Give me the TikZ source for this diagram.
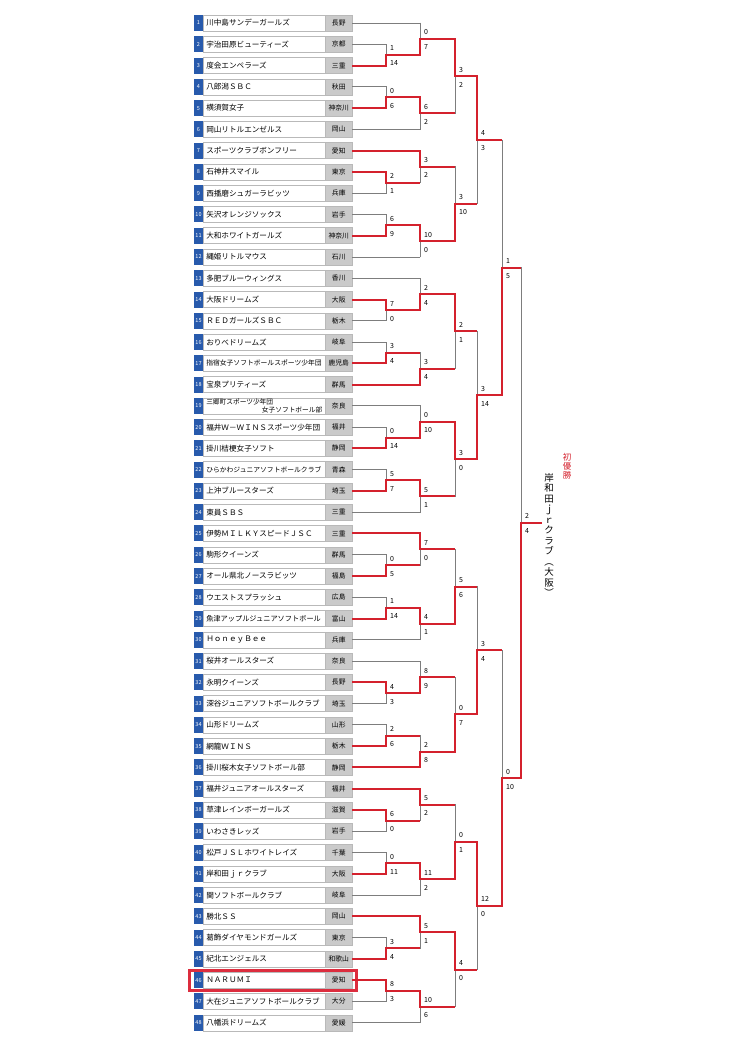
\documentclass[tikz,border=0pt]{standalone}
\usepackage{fontspec}
\setmainfont{Noto Sans CJK JP}
\usepackage{tikz}
\usetikzlibrary{calc}
\usetikzlibrary{positioning}
\usetikzlibrary{shadows}
\usetikzlibrary{fit}
\usepackage{xcolor}

\definecolor{numblue}{RGB}{40,90,172}
\definecolor{prefgray}{RGB}{202,202,202}
\definecolor{winred}{RGB}{212,33,45}
\definecolor{linegray}{RGB}{125,125,125}
\definecolor{hlred}{RGB}{220,45,62}

\pgfdeclarelayer{front}
\pgfsetlayers{main,front}

\tikzset{
numbox/.style={minimum width=9.5pt, minimum height=16pt, inner sep=0pt, outer sep=0pt,
  fill=numblue, text=white, font=\fontsize{5.5}{6}\selectfont},
namebox/.style={draw=gray!55, fill=white, minimum height=16pt, text width=116pt,
  inner xsep=3pt, inner ysep=0pt, outer sep=0pt, align=left,
  font=\fontsize{7.6}{8}\selectfont,
  drop shadow={shadow xshift=0.8pt, shadow yshift=-0.8pt, opacity=.35}},
prefbox/.style={draw=gray!55, fill=prefgray, minimum width=27pt, minimum height=16pt,
  inner sep=0pt, outer sep=0pt, font=\fontsize{6.8}{7}\selectfont,
  drop shadow={shadow xshift=0.8pt, shadow yshift=-0.8pt, opacity=.35}},
won/.style={draw=winred, line width=2pt},
lost/.style={draw=linegray, line width=0.9pt, line cap=rect},
score/.style={font=\fontsize{7}{7}\selectfont, inner sep=0.5pt, anchor=west},
hlbox/.style={draw=hlred, line width=2.8pt, inner xsep=4.5pt, inner ysep=2pt},
champ/.style={text=winred, align=center, inner sep=0pt, font=\fontsize{8.5}{9}\selectfont},
champname/.style={align=center, inner sep=0pt, font=\fontsize{9.5}{10.5}\selectfont},
}

% #1 name, #2 column, #3 upper, #4 lower, #5 winner (1/2), #6 #7 scores, #8 next column
\newcommand\bout[8]{%
  \coordinate (#1-h) at ($(#3)!.5!(#4)$);
  \coordinate (#1) at (#2 |- #1-h);
  \ifnum#5=1
    \draw[lost] (#4 -| #2) -- (#1);
    \begin{pgfonlayer}{front}
    \draw[won] (#3) -- (#3 -| #2) -- (#1) -- (#1 -| #8);
    \end{pgfonlayer}
  \else
    \draw[lost] (#3 -| #2) -- (#1);
    \begin{pgfonlayer}{front}
    \draw[won] (#4) -- (#4 -| #2) -- (#1) -- (#1 -| #8);
    \end{pgfonlayer}
  \fi
  \node[score] at ([xshift=3.5pt,yshift=6.5pt]#1) {#6};
  \node[score] at ([xshift=3.5pt,yshift=-8.5pt]#1) {#7};
}

\begin{document}
\begin{tikzpicture}[x=1pt,y=-1pt]
\useasboundingbox (0,0) rectangle (736,1040);

% bracket columns
\coordinate (c1) at (386,0);
\coordinate (c2) at (420,0);
\coordinate (c3) at (455,0);
\coordinate (c4) at (477,0);
\coordinate (c5) at (502,0);
\coordinate (c6) at (521,0);
\coordinate (c7) at (542,0);

% teams
\foreach \i/\nm/\pf/\col in {
1/川中島サンデーガールズ/長野/c2,
2/宇治田原ビューティーズ/京都/c1,
3/度会エンペラーズ/三重/c1,
4/八郎潟ＳＢＣ/秋田/c1,
5/横須賀女子/神奈川/c1,
6/岡山リトルエンゼルス/岡山/c2,
7/スポーツクラブボンフリー/愛知/c2,
8/石神井スマイル/東京/c1,
9/西播磨シュガーラビッツ/兵庫/c1,
10/矢沢オレンジソックス/岩手/c1,
11/大和ホワイトガールズ/神奈川/c1,
12/縄姫リトルマウス/石川/c2,
13/多肥ブルーウィングス/香川/c2,
14/大阪ドリームズ/大阪/c1,
15/ＲＥＤガールズＳＢＣ/栃木/c1,
16/おりべドリームズ/岐阜/c1,
17/{\fontsize{6.8}{8}\selectfont 指宿女子ソフトボールスポーツ少年団}/鹿児島/c1,
18/宝泉プリティーズ/群馬/c2,
19/{\fontsize{6.7}{8}\selectfont 三郷町スポーツ少年団\\\hspace*{\fill}女子ソフトボール部\hspace*{6pt}}/奈良/c2,
20/福井Ｗ－ＷＩＮＳスポーツ少年団/福井/c1,
21/掛川桔梗女子ソフト/静岡/c1,
22/{\fontsize{6.8}{8}\selectfont ひらかわジュニアソフトボールクラブ}/青森/c1,
23/上沖ブルースターズ/埼玉/c1,
24/東員ＳＢＳ/三重/c2,
25/伊勢ＭＩＬＫＹスピードＪＳＣ/三重/c2,
26/駒形クイーンズ/群馬/c1,
27/オール県北ノースラビッツ/福島/c1,
28/ウエストスプラッシュ/広島/c1,
29/{\fontsize{7.2}{8}\selectfont 魚津アップルジュニアソフトボール}/富山/c1,
30/ＨｏｎｅｙＢｅｅ/兵庫/c2,
31/桜井オールスターズ/奈良/c2,
32/永明クイーンズ/長野/c1,
33/深谷ジュニアソフトボールクラブ/埼玉/c1,
34/山形ドリームズ/山形/c1,
35/網籠ＷＩＮＳ/栃木/c1,
36/掛川桜木女子ソフトボール部/静岡/c2,
37/福井ジュニアオールスターズ/福井/c2,
38/草津レインボーガールズ/滋賀/c1,
39/いわさきレッズ/岩手/c1,
40/松戸ＪＳＬホワイトレイズ/千葉/c1,
41/岸和田ｊｒクラブ/大阪/c1,
42/関ソフトボールクラブ/岐阜/c2,
43/勝北ＳＳ/岡山/c2,
44/葛飾ダイヤモンドガールズ/東京/c1,
45/紀北エンジェルス/和歌山/c1,
46/ＮＡＲＵＭＩ/愛知/c1,
47/大在ジュニアソフトボールクラブ/大分/c1,
48/八幡浜ドリームズ/愛媛/c2}{
  \pgfmathsetmacro\yy{23+(\i-1)*21.27}
  \node[numbox] (n\i) at (198.5,\yy) {\i};
  \node[namebox, right=0pt of n\i] (t\i) {\nm};
  \node[prefbox, right=0pt of t\i] (p\i) {\pf};
  \draw[lost] (p\i) -- (p\i -| \col);
}

% first round
\bout{a1}{c1}{p2}{p3}{2}{1}{14}{c2}
\bout{a2}{c1}{p4}{p5}{2}{0}{6}{c2}
\bout{a3}{c1}{p8}{p9}{1}{2}{1}{c2}
\bout{a4}{c1}{p10}{p11}{2}{6}{9}{c2}
\bout{a5}{c1}{p14}{p15}{1}{7}{0}{c2}
\bout{a6}{c1}{p16}{p17}{2}{3}{4}{c2}
\bout{a7}{c1}{p20}{p21}{2}{0}{14}{c2}
\bout{a8}{c1}{p22}{p23}{2}{5}{7}{c2}
\bout{a9}{c1}{p26}{p27}{2}{0}{5}{c2}
\bout{a10}{c1}{p28}{p29}{2}{1}{14}{c2}
\bout{a11}{c1}{p32}{p33}{1}{4}{3}{c2}
\bout{a12}{c1}{p34}{p35}{2}{2}{6}{c2}
\bout{a13}{c1}{p38}{p39}{1}{6}{0}{c2}
\bout{a14}{c1}{p40}{p41}{2}{0}{11}{c2}
\bout{a15}{c1}{p44}{p45}{2}{3}{4}{c2}
\bout{a16}{c1}{p46}{p47}{1}{8}{3}{c2}

% second round
\bout{b1}{c2}{p1}{a1}{2}{0}{7}{c3}
\bout{b2}{c2}{a2}{p6}{1}{6}{2}{c3}
\bout{b3}{c2}{p7}{a3}{1}{3}{2}{c3}
\bout{b4}{c2}{a4}{p12}{1}{10}{0}{c3}
\bout{b5}{c2}{p13}{a5}{2}{2}{4}{c3}
\bout{b6}{c2}{a6}{p18}{2}{3}{4}{c3}
\bout{b7}{c2}{p19}{a7}{2}{0}{10}{c3}
\bout{b8}{c2}{a8}{p24}{1}{5}{1}{c3}
\bout{b9}{c2}{p25}{a9}{1}{7}{0}{c3}
\bout{b10}{c2}{a10}{p30}{1}{4}{1}{c3}
\bout{b11}{c2}{p31}{a11}{2}{8}{9}{c3}
\bout{b12}{c2}{a12}{p36}{2}{2}{8}{c3}
\bout{b13}{c2}{p37}{a13}{1}{5}{2}{c3}
\bout{b14}{c2}{a14}{p42}{1}{11}{2}{c3}
\bout{b15}{c2}{p43}{a15}{1}{5}{1}{c3}
\bout{b16}{c2}{a16}{p48}{1}{10}{6}{c3}

% third round
\bout{d1}{c3}{b1}{b2}{1}{3}{2}{c4}
\bout{d2}{c3}{b3}{b4}{2}{3}{10}{c4}
\bout{d3}{c3}{b5}{b6}{1}{2}{1}{c4}
\bout{d4}{c3}{b7}{b8}{1}{3}{0}{c4}
\bout{d5}{c3}{b9}{b10}{2}{5}{6}{c4}
\bout{d6}{c3}{b11}{b12}{2}{0}{7}{c4}
\bout{d7}{c3}{b13}{b14}{2}{0}{1}{c4}
\bout{d8}{c3}{b15}{b16}{1}{4}{0}{c4}

% quarter finals
\bout{e1}{c4}{d1}{d2}{1}{4}{3}{c5}
\bout{e2}{c4}{d3}{d4}{2}{3}{14}{c5}
\bout{e3}{c4}{d5}{d6}{2}{3}{4}{c5}
\bout{e4}{c4}{d7}{d8}{1}{12}{0}{c5}

% semi finals and final
\bout{s1}{c5}{e1}{e2}{2}{1}{5}{c6}
\bout{s2}{c5}{e3}{e4}{2}{0}{10}{c6}
\bout{fin}{c6}{s1}{s2}{2}{2}{4}{c7}

% champion
\node[champ] (first) at (567,466) {初\\優\\勝};
\node[champname] (club) at (549,535) {岸\\和\\田\\ｊ\\ｒ\\ク\\ラ\\ブ\\︵\\大\\阪\\︶};

\node[hlbox, fit=(n46)(p46)] (hl) {};

\end{tikzpicture}
\end{document}
